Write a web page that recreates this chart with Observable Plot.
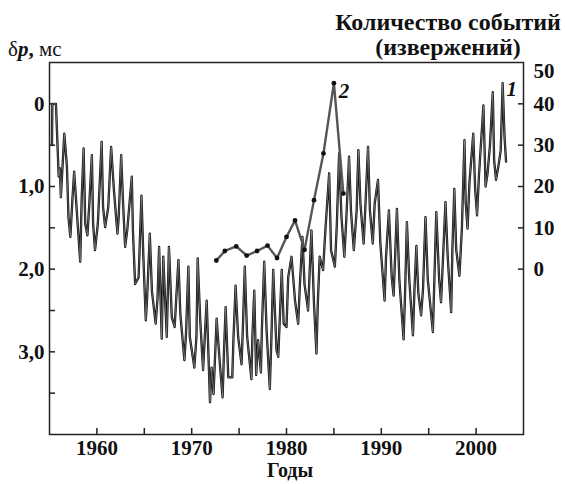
<!DOCTYPE html>
<html><head><meta charset="utf-8">
<script src="https://cdn.jsdelivr.net/npm/d3@7"></script>
<script src="https://cdn.jsdelivr.net/npm/@observablehq/plot@0.6"></script>
<style>
body{margin:0;background:#fff;}
#wrap{width:565px;height:484px;}
</style></head><body><div id="wrap"></div>
<script>
// Series 1: δp, ms
const years1 = [1955.26,1955.30,1955.68,1955.97,1956.10,1956.20,1956.56,1956.84,1957.00,1957.20,1957.40,1957.60,1957.97,1958.24,1958.40,1958.60,1958.77,1959.00,1959.20,1959.47,1959.60,1959.80,1960.10,1960.50,1960.65,1960.87,1961.20,1961.50,1961.80,1962.17,1962.30,1962.56,1962.75,1962.98,1963.20,1963.68,1963.80,1964.03,1964.40,1964.70,1964.90,1965.16,1965.30,1965.58,1965.80,1966.20,1966.40,1966.56,1966.84,1967.00,1967.37,1967.60,1967.90,1968.20,1968.60,1968.80,1969.23,1969.40,1969.65,1969.80,1970.28,1970.50,1970.63,1970.90,1971.20,1971.58,1971.93,1972.10,1972.30,1972.63,1973.00,1973.26,1973.40,1973.58,1973.86,1974.28,1974.40,1974.63,1974.90,1975.26,1975.40,1975.60,1975.85,1976.30,1976.40,1976.60,1976.80,1977.00,1977.30,1977.40,1977.65,1977.90,1978.24,1978.40,1978.60,1978.95,1979.13,1979.50,1979.70,1980.00,1980.18,1980.53,1980.90,1981.23,1981.40,1981.68,1981.90,1982.28,1982.45,1982.63,1982.90,1983.16,1983.30,1983.50,1983.86,1984.10,1984.50,1984.70,1985.10,1985.30,1985.55,1985.80,1986.10,1986.30,1986.60,1986.80,1987.10,1987.40,1987.58,1987.80,1988.14,1988.30,1988.60,1988.80,1989.10,1989.30,1989.65,1989.90,1990.35,1990.50,1990.80,1991.10,1991.30,1991.65,1991.90,1992.35,1992.50,1992.70,1992.95,1993.34,1993.50,1993.70,1993.90,1994.20,1994.40,1994.66,1994.90,1995.44,1995.60,1995.80,1996.10,1996.30,1996.50,1996.77,1997.00,1997.37,1997.50,1997.70,1997.90,1998.24,1998.50,1998.77,1998.90,1999.10,1999.30,1999.70,1999.90,2000.10,2000.30,2000.77,2001.00,2001.20,2001.45,2001.76,2001.90,2002.10,2002.40,2002.60,2002.80,2003.00,2003.16];
const dp1 = [0.50,0.00,0.00,0.88,0.78,1.13,0.36,0.76,1.37,1.61,1.19,0.82,1.45,1.91,1.13,0.54,1.45,1.59,1.21,0.62,1.45,1.77,1.45,0.46,1.25,1.49,1.25,0.52,1.05,1.57,1.37,0.62,1.17,1.73,1.53,0.88,1.53,2.18,2.10,1.11,1.85,2.62,2.34,1.57,2.26,2.66,2.34,1.73,2.84,1.85,2.82,1.73,2.58,2.70,1.89,2.54,3.10,2.78,1.97,2.82,3.19,2.82,1.87,2.62,3.22,2.38,3.61,3.19,3.51,2.60,3.19,3.55,3.02,2.46,3.31,3.31,2.86,2.20,2.82,3.15,2.70,1.97,2.82,3.33,2.82,2.26,3.28,2.86,3.25,2.74,1.91,2.74,3.45,2.86,2.01,2.98,3.06,2.01,2.66,2.70,2.10,1.85,2.38,2.66,2.22,1.61,2.18,2.50,2.01,1.53,2.42,3.02,2.42,1.85,2.01,1.53,0.84,1.77,1.97,1.49,0.60,1.37,1.85,1.41,0.64,1.29,1.77,1.29,0.56,1.21,1.69,1.29,0.52,1.29,1.69,1.21,0.92,1.69,2.38,1.85,1.29,2.10,2.32,1.27,2.12,2.85,2.32,1.43,2.12,2.80,2.24,1.72,2.28,2.56,2.24,1.37,2.12,2.76,2.12,1.31,2.12,2.40,1.89,1.19,1.84,2.52,1.76,1.03,1.76,2.08,1.51,0.44,1.19,1.51,0.95,0.36,1.03,1.35,0.87,0.02,1.00,0.85,0.52,-0.14,0.68,0.92,0.72,0.56,-0.25,0.40,0.70];

// Series 2: number of events (eruptions)
const years2 = [1972.6,1973.5,1974.7,1975.8,1976.9,1978.0,1979.0,1980.0,1980.9,1981.9,1982.9,1983.9,1985.0,1986.0];
const events2 = [2.1,4.4,5.5,3.3,4.4,5.7,2.7,7.8,11.8,4.7,16.7,28,45,18.3];

// Axis ticks & labels
const xTicks = [1960,1965,1970,1975,1980,1985,1990,1995,2000];
const xLabels = [1960,1970,1980,1990,2000];
const leftTicks = [0,0.5,1,1.5,2,2.5,3,3.5];
const leftLabels = {0:"0",1:"1,0",2:"2,0",3:"3,0"};
const rightTicks = [0,10,20,30,40];
const rightTop = [50];

const evToDp = c => (40 - c) / 20;   // right axis: 40 events ↔ 0 ms, 0 events ↔ 2 ms
const dpToEv = d => Math.round(40 - 20 * d);

const s1 = years1.map((t, i) => ({t, v: dp1[i]}));
const s2 = years2.map((t, i) => ({t, c: events2[i]}));
const peak1 = s1[d3.minIndex(s1, d => d.v)];
const peak2 = s2[d3.maxIndex(s2, d => d.c)];

const font = "Liberation Serif";
const chart = Plot.plot({
  width: 565, height: 484,
  marginLeft: 49, marginRight: 42, marginTop: 62, marginBottom: 50,
  style: {fontFamily: font, fontSize: "21px", fontWeight: "bold", color: "#111", background: "#fff"},
  x: {domain: [1955, 2005]},
  y: {domain: [-0.5, 4.0], reverse: true},
  marks: [
    Plot.frame({stroke: "#222", strokeWidth: 1.5}),
    Plot.axisX({ticks: xTicks, tickSize: -6, tickPadding: 12, tickFormat: d => xLabels.includes(d) ? String(d) : "", label: null, stroke: "#222", strokeWidth: 1.5}),
    Plot.axisY({anchor: "left", ticks: leftTicks, tickSize: -6, tickPadding: 11, tickFormat: d => leftLabels[d] ?? "", label: null, stroke: "#222", strokeWidth: 1.5}),
    Plot.axisY({anchor: "right", ticks: rightTicks.map(evToDp), tickSize: -6, tickPadding: 16, tickFormat: d => String(dpToEv(d)), label: null, stroke: "#222", strokeWidth: 1.5}),
    Plot.axisY({anchor: "right", ticks: rightTop.map(evToDp), tickSize: 0, tickPadding: 10, dy: 9, tickFormat: d => String(dpToEv(d)), label: null}),
    Plot.line(s1, {x: "t", y: "v", stroke: "#0d0d0d", strokeWidth: 2.3}),
    Plot.line(s1, {x: "t", y: "v", stroke: "#a8a8a8", strokeWidth: 0.55}),
    Plot.line(s2, {x: "t", y: d => evToDp(d.c), stroke: "#555", strokeWidth: 2.4}),
    Plot.dot(s2, {x: "t", y: d => evToDp(d.c), r: 2.4, fill: "#111"}),
    Plot.text([peak2], {x: "t", y: d => evToDp(d.c), text: () => "2", dx: 10, dy: 8, fontStyle: "italic", fontWeight: "bold", fontSize: 21}),
    Plot.text([peak1], {x: "t", y: "v", text: () => "1", dx: 9, dy: 6, fontStyle: "italic", fontWeight: "bold", fontSize: 21})
  ]
});
document.getElementById("wrap").append(chart);

// Titles as real SVG text
const svg = d3.select(chart);
const yl = svg.append("text").attr("x", 8).attr("y", 56).attr("text-anchor", "start")
  .attr("font-family", font).attr("font-size", 21).attr("fill", "#111");
yl.append("tspan").attr("font-weight", "normal").text("δ");
yl.append("tspan").attr("font-weight", "bold").attr("font-style", "italic").text("p");
yl.append("tspan").attr("font-weight", "bold").text(",");
yl.append("tspan").attr("font-weight", "normal").text(" мс");

const tt = svg.append("g").attr("font-family", font).attr("font-size", 24)
  .attr("font-weight", "bold").attr("fill", "#111").attr("text-anchor", "middle");
tt.append("text").attr("x", 448).attr("y", 30).text("Количество событий");
tt.append("text").attr("x", 448).attr("y", 55).text("(извержений)");

svg.append("text").attr("x", 290).attr("y", 477)
  .attr("font-family", font).attr("font-size", 20).attr("font-weight", "bold")
  .attr("fill", "#111").attr("text-anchor", "middle").text("Годы");
</script></body></html>
